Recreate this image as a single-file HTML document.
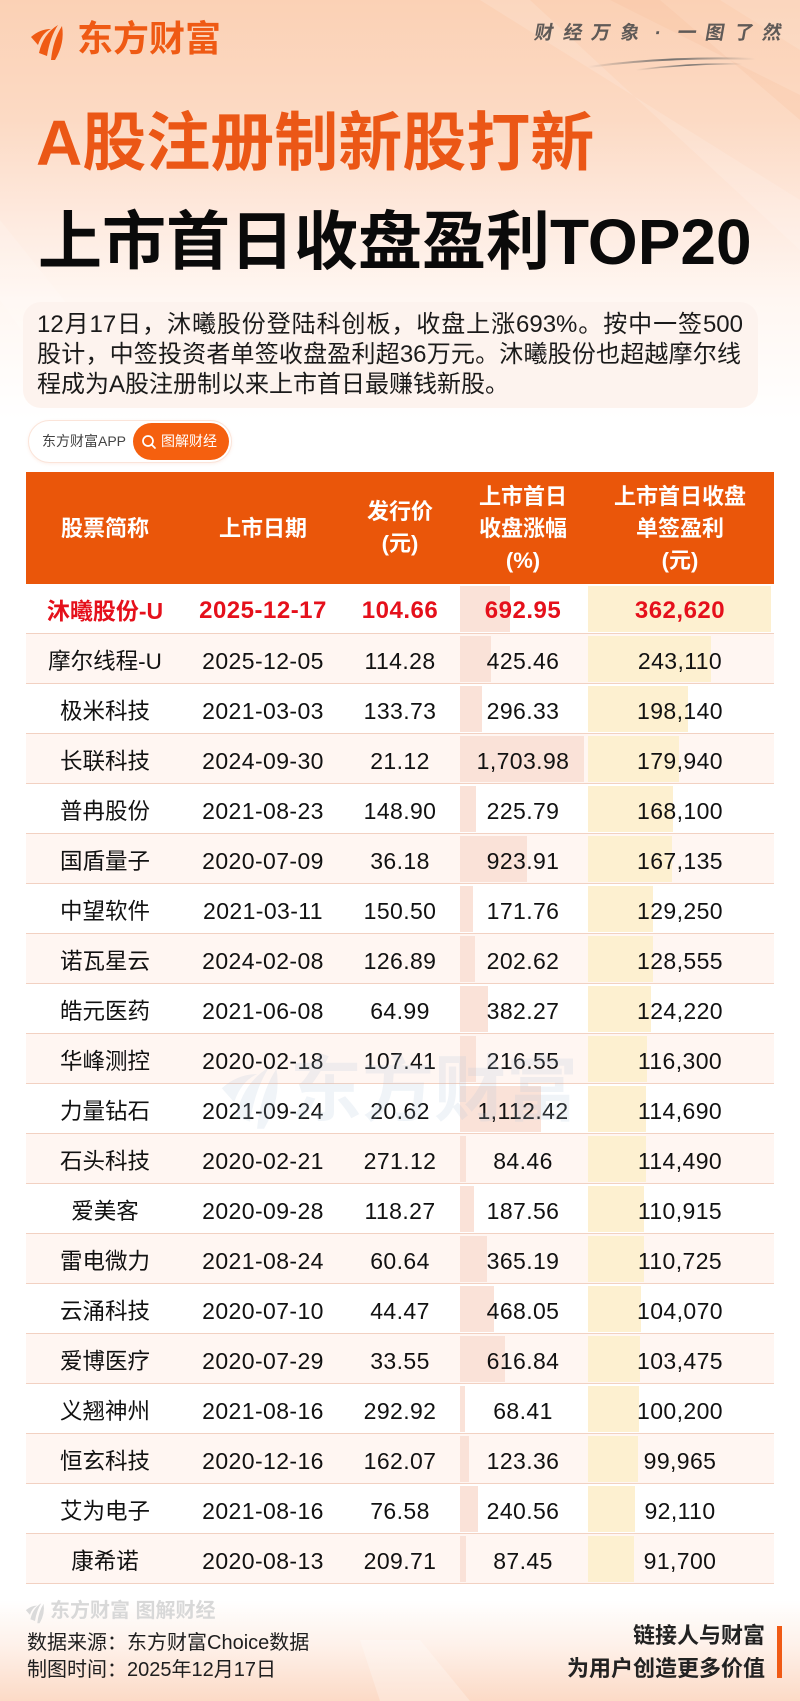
<!DOCTYPE html>
<html><head><meta charset="utf-8">
<style>
*{margin:0;padding:0;box-sizing:border-box}
html,body{width:800px;height:1701px;overflow:hidden;background:#fff}
body{position:relative;font-family:"Liberation Sans","Noto Sans CJK SC",sans-serif;color:#111}
.a{position:absolute;white-space:nowrap}
.topbg{position:absolute;left:0;top:0;width:800px;height:470px;background:linear-gradient(180deg,#fbd1b5 0px,#fcdac4 120px,#feeadf 220px,#fff7f2 300px,#fff 420px)}
.botbg{position:absolute;left:0;top:1600px;width:800px;height:101px;background:linear-gradient(180deg,rgba(255,255,255,0) 0%,rgba(253,232,220,.6) 45%,#fcdac6 100%)}
.t1{left:36px;top:111px;font-size:64px;line-height:64px;font-weight:700;color:#eb5716}
.t2{left:38px;top:210px;font-size:64px;line-height:64px;font-weight:700;color:#0a0a0a}
.para{position:absolute;left:23px;top:302px;width:735px;height:106px;border-radius:18px;background:#fdf3ee}
.pl{position:absolute;left:37px;font-size:24px;line-height:24px;color:#1a1a1a;white-space:nowrap}
.pj{text-align:justify;text-align-last:justify;white-space:normal;text-justify:inter-character}
.badge{position:absolute;left:28px;top:420px;width:204px;height:43px;border-radius:22px;background:#fff;border:1px solid #fbe4d9;box-shadow:0 1px 3px rgba(240,150,110,.15)}
.pill{position:absolute;left:133px;top:423px;width:96px;height:37px;border-radius:19px;background:#f5600f}
.head{position:absolute;left:26px;top:472px;width:748px;height:112px;background:#ea560a}
.h{position:absolute;font-size:22px;line-height:22px;font-weight:700;color:#fff;text-align:center;white-space:nowrap}
.r{position:absolute;left:26px;width:748px;height:50px}
.p{background:#fff6f2}
.r i{position:absolute;top:2px;height:46px;display:block}
.b4{left:434px;background:#fae2d8}
.b5{left:562px;background:#fdf0d0}
.r span{position:absolute;top:16px;font-size:23px;line-height:23px;text-align:center;white-space:nowrap;letter-spacing:.4px;color:#111}
.c1{left:0;width:158px;letter-spacing:0 !important;font-size:22.5px !important}
.c2{left:160px;width:154px}
.c3{left:314px;width:120px}
.c4{left:434px;width:126px}
.c5{left:560px;width:188px}
.top1 span{color:#e5101b;font-weight:700;font-size:24px;line-height:24px;top:15px;letter-spacing:.5px}
.top1 .c1{font-size:23px !important}
.ln{position:absolute;left:26px;width:748px;height:1px;background:#f2d1c2}
.wm{left:290px;top:1055px;font-size:72px;line-height:72px;font-weight:700;color:rgba(170,192,215,.18)}
.f{font-size:20px;line-height:20px;color:#1e1e1e}
.fr{right:35px;font-size:22px;line-height:22px;font-weight:700;color:#222;text-align:right}
.sl{position:absolute;top:24px;width:20px;text-align:center;font-size:19px;line-height:19px;font-weight:700;color:#5f5a57;transform:skewX(-10deg)}
</style></head><body>
<div class="topbg"></div>
<svg class="a" style="left:0;top:0" width="800" height="470">
<polygon points="480,0 530,0 800,250 800,200" fill="#fff" opacity=".14"/>
<polygon points="610,0 660,0 800,120 800,95" fill="#f7b58e" opacity=".18"/>
<polygon points="720,0 800,0 800,50" fill="#fff" opacity=".12"/>
<polygon points="0,220 0,300 120,470 200,470" fill="#fff" opacity=".15"/>
</svg>
<div class="botbg"></div>
<svg class="a" style="left:0;top:1600px" width="800" height="101">
<polygon points="380,101 470,101 420,40 360,40" fill="#fff" opacity=".25"/>
</svg>

<!-- logo -->
<svg class="a" style="left:28px;top:21px" width="38" height="42" viewBox="28 21 38 42">
<path d="M31,37 Q40,29 51,29 Q42,33 38,45 Z" fill="#ef5a14"/>
<path d="M39,53 Q43,34 58,25 Q50,37 47,56 Z" fill="#ef5a14"/>
<path d="M51,60 Q53,40 62,26 Q65,43 55,60 Z" fill="#ef5a14"/>
</svg>
<div class="a" style="left:77px;top:21px;font-size:36px;line-height:36px;font-weight:700;color:#ef5a14">东方财富</div>

<span class="sl" style="left:534px">财</span>
<span class="sl" style="left:562.5px">经</span>
<span class="sl" style="left:591px">万</span>
<span class="sl" style="left:619.5px">象</span>
<span class="sl" style="left:648px">·</span>
<span class="sl" style="left:676.5px">一</span>
<span class="sl" style="left:705px">图</span>
<span class="sl" style="left:733.5px">了</span>
<span class="sl" style="left:762px">然</span>
<svg class="a" style="left:580px;top:50px" width="190" height="30" viewBox="580 50 190 30">
<defs><linearGradient id="sw" x1="0" x2="1" y1="0" y2="0"><stop offset="0" stop-color="#666" stop-opacity="0"/><stop offset=".5" stop-color="#666" stop-opacity=".9"/><stop offset="1" stop-color="#666" stop-opacity="0"/></linearGradient></defs>
<path d="M588,67 Q670,56 755,59" stroke="url(#sw)" stroke-width="2" fill="none"/>
<path d="M636,70 Q690,63 742,64" stroke="url(#sw)" stroke-width="1.6" fill="none"/>
</svg>

<div class="a t1">A股注册制新股打新</div>
<div class="a t2">上市首日收盘盈利TOP20</div>

<div class="para"></div>
<div class="pl pj" style="top:313px;width:706px">12月17日，沐曦股份登陆科创板，收盘上涨693%。按中一签500</div>
<div class="pl pj" style="top:343px;width:704px">股计，中签投资者单签收盘盈利超36万元。沐曦股份也超越摩尔线</div>
<div class="pl" style="top:373px">程成为A股注册制以来上市首日最赚钱新股。</div>

<div class="badge"></div>
<div class="a" style="left:42px;top:434px;font-size:14px;line-height:14px;color:#444">东方财富APP</div>
<div class="pill"></div>
<svg class="a" style="left:141px;top:434px" width="16" height="16">
<circle cx="7" cy="7" r="5" stroke="#fff" stroke-width="1.7" fill="none"/>
<line x1="10.5" y1="10.5" x2="14" y2="14" stroke="#fff" stroke-width="1.7" stroke-linecap="round"/>
</svg>
<div class="a" style="left:161px;top:434px;font-size:14px;line-height:14px;color:#fff">图解财经</div>

<div class="head"></div>
<div class="h" style="left:26px;width:158px;top:518px">股票简称</div>
<div class="h" style="left:186px;width:154px;top:518px">上市日期</div>
<div class="h" style="left:340px;width:120px;top:501px">发行价</div>
<div class="h" style="left:340px;width:120px;top:533px">(元)</div>
<div class="h" style="left:460px;width:126px;top:486px">上市首日</div>
<div class="h" style="left:460px;width:126px;top:518px">收盘涨幅</div>
<div class="h" style="left:460px;width:126px;top:550px">(%)</div>
<div class="h" style="left:586px;width:188px;top:486px">上市首日收盘</div>
<div class="h" style="left:586px;width:188px;top:518px">单签盈利</div>
<div class="h" style="left:586px;width:188px;top:550px">(元)</div>

<div class="r top1" style="top:584px"><i class="b4" style="width:50.4px"></i><i class="b5" style="width:183px"></i><span class="c1">沐曦股份-U</span><span class="c2">2025-12-17</span><span class="c3">104.66</span><span class="c4">692.95</span><span class="c5">362,620</span></div>
<div class="r p" style="top:634px"><i class="b4" style="width:31px"></i><i class="b5" style="width:122.7px"></i><span class="c1">摩尔线程-U</span><span class="c2">2025-12-05</span><span class="c3">114.28</span><span class="c4">425.46</span><span class="c5">243,110</span></div>
<div class="r" style="top:684px"><i class="b4" style="width:21.6px"></i><i class="b5" style="width:100px"></i><span class="c1">极米科技</span><span class="c2">2021-03-03</span><span class="c3">133.73</span><span class="c4">296.33</span><span class="c5">198,140</span></div>
<div class="r p" style="top:734px"><i class="b4" style="width:124px"></i><i class="b5" style="width:90.8px"></i><span class="c1">长联科技</span><span class="c2">2024-09-30</span><span class="c3">21.12</span><span class="c4">1,703.98</span><span class="c5">179,940</span></div>
<div class="r" style="top:784px"><i class="b4" style="width:16.4px"></i><i class="b5" style="width:84.8px"></i><span class="c1">普冉股份</span><span class="c2">2021-08-23</span><span class="c3">148.90</span><span class="c4">225.79</span><span class="c5">168,100</span></div>
<div class="r p" style="top:834px"><i class="b4" style="width:67.2px"></i><i class="b5" style="width:84.3px"></i><span class="c1">国盾量子</span><span class="c2">2020-07-09</span><span class="c3">36.18</span><span class="c4">923.91</span><span class="c5">167,135</span></div>
<div class="r" style="top:884px"><i class="b4" style="width:12.5px"></i><i class="b5" style="width:65.2px"></i><span class="c1">中望软件</span><span class="c2">2021-03-11</span><span class="c3">150.50</span><span class="c4">171.76</span><span class="c5">129,250</span></div>
<div class="r p" style="top:934px"><i class="b4" style="width:14.7px"></i><i class="b5" style="width:64.9px"></i><span class="c1">诺瓦星云</span><span class="c2">2024-02-08</span><span class="c3">126.89</span><span class="c4">202.62</span><span class="c5">128,555</span></div>
<div class="r" style="top:984px"><i class="b4" style="width:27.8px"></i><i class="b5" style="width:62.7px"></i><span class="c1">皓元医药</span><span class="c2">2021-06-08</span><span class="c3">64.99</span><span class="c4">382.27</span><span class="c5">124,220</span></div>
<div class="r p" style="top:1034px"><i class="b4" style="width:15.8px"></i><i class="b5" style="width:58.7px"></i><span class="c1">华峰测控</span><span class="c2">2020-02-18</span><span class="c3">107.41</span><span class="c4">216.55</span><span class="c5">116,300</span></div>
<div class="r" style="top:1084px"><i class="b4" style="width:81px"></i><i class="b5" style="width:57.9px"></i><span class="c1">力量钻石</span><span class="c2">2021-09-24</span><span class="c3">20.62</span><span class="c4">1,112.42</span><span class="c5">114,690</span></div>
<div class="r p" style="top:1134px"><i class="b4" style="width:6.1px"></i><i class="b5" style="width:57.8px"></i><span class="c1">石头科技</span><span class="c2">2020-02-21</span><span class="c3">271.12</span><span class="c4">84.46</span><span class="c5">114,490</span></div>
<div class="r" style="top:1184px"><i class="b4" style="width:13.6px"></i><i class="b5" style="width:56px"></i><span class="c1">爱美客</span><span class="c2">2020-09-28</span><span class="c3">118.27</span><span class="c4">187.56</span><span class="c5">110,915</span></div>
<div class="r p" style="top:1234px"><i class="b4" style="width:26.6px"></i><i class="b5" style="width:55.9px"></i><span class="c1">雷电微力</span><span class="c2">2021-08-24</span><span class="c3">60.64</span><span class="c4">365.19</span><span class="c5">110,725</span></div>
<div class="r" style="top:1284px"><i class="b4" style="width:34.1px"></i><i class="b5" style="width:52.5px"></i><span class="c1">云涌科技</span><span class="c2">2020-07-10</span><span class="c3">44.47</span><span class="c4">468.05</span><span class="c5">104,070</span></div>
<div class="r p" style="top:1334px"><i class="b4" style="width:44.9px"></i><i class="b5" style="width:52.2px"></i><span class="c1">爱博医疗</span><span class="c2">2020-07-29</span><span class="c3">33.55</span><span class="c4">616.84</span><span class="c5">103,475</span></div>
<div class="r" style="top:1384px"><i class="b4" style="width:5px"></i><i class="b5" style="width:50.6px"></i><span class="c1">义翘神州</span><span class="c2">2021-08-16</span><span class="c3">292.92</span><span class="c4">68.41</span><span class="c5">100,200</span></div>
<div class="r p" style="top:1434px"><i class="b4" style="width:9px"></i><i class="b5" style="width:50.4px"></i><span class="c1">恒玄科技</span><span class="c2">2020-12-16</span><span class="c3">162.07</span><span class="c4">123.36</span><span class="c5">99,965</span></div>
<div class="r" style="top:1484px"><i class="b4" style="width:17.5px"></i><i class="b5" style="width:46.5px"></i><span class="c1">艾为电子</span><span class="c2">2021-08-16</span><span class="c3">76.58</span><span class="c4">240.56</span><span class="c5">92,110</span></div>
<div class="r p" style="top:1534px"><i class="b4" style="width:6.4px"></i><i class="b5" style="width:46.3px"></i><span class="c1">康希诺</span><span class="c2">2020-08-13</span><span class="c3">209.71</span><span class="c4">87.45</span><span class="c5">91,700</span></div>

<div class="ln" style="top:633px"></div>
<div class="ln" style="top:683px"></div>
<div class="ln" style="top:733px"></div>
<div class="ln" style="top:783px"></div>
<div class="ln" style="top:833px"></div>
<div class="ln" style="top:883px"></div>
<div class="ln" style="top:933px"></div>
<div class="ln" style="top:983px"></div>
<div class="ln" style="top:1033px"></div>
<div class="ln" style="top:1083px"></div>
<div class="ln" style="top:1133px"></div>
<div class="ln" style="top:1183px"></div>
<div class="ln" style="top:1233px"></div>
<div class="ln" style="top:1283px"></div>
<div class="ln" style="top:1333px"></div>
<div class="ln" style="top:1383px"></div>
<div class="ln" style="top:1433px"></div>
<div class="ln" style="top:1483px"></div>
<div class="ln" style="top:1533px"></div>
<div class="ln" style="top:1583px"></div>

<!-- watermark -->
<svg class="a" style="left:215px;top:1060px" width="70" height="74" viewBox="28 21 38 42">
<path d="M31,37 Q40,29 51,29 Q42,33 38,45 Z" fill="rgba(170,192,215,.18)"/>
<path d="M39,53 Q43,34 58,25 Q50,37 47,56 Z" fill="rgba(170,192,215,.18)"/>
<path d="M51,60 Q53,40 62,26 Q65,43 55,60 Z" fill="rgba(170,192,215,.18)"/>
</svg>
<div class="a wm">东方财富</div>

<!-- footer -->
<svg class="a" style="left:24px;top:1601px" width="22" height="24" viewBox="28 21 38 42">
<path d="M31,37 Q40,29 51,29 Q42,33 38,45 Z" fill="#dadada"/>
<path d="M39,53 Q43,34 58,25 Q50,37 47,56 Z" fill="#dadada"/>
<path d="M51,60 Q53,40 62,26 Q65,43 55,60 Z" fill="#dadada"/>
</svg>
<div class="a" style="left:50px;top:1601px;font-size:20px;line-height:20px;color:#d8d8d8;font-weight:700">东方财富 图解财经</div>
<div class="a f" style="left:27px;top:1633px">数据来源：东方财富Choice数据</div>
<div class="a f" style="left:27px;top:1660px">制图时间：2025年12月17日</div>
<div class="a fr" style="top:1625px">链接人与财富</div>
<div class="a fr" style="top:1658px">为用户创造更多价值</div>
<div class="a" style="left:777px;top:1626px;width:5px;height:52px;background:#f05a14"></div>
</body></html>
